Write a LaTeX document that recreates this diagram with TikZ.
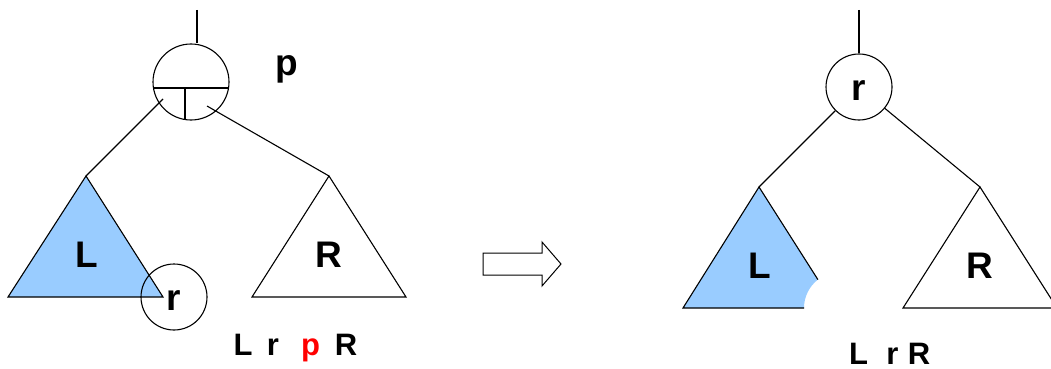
\documentclass[tikz,border=0pt]{standalone}
\usepackage{fontspec}
\setmainfont{Liberation Sans}
\usetikzlibrary{calc}
\definecolor{lblue}{HTML}{99CCFF}
\begin{document}
\begin{tikzpicture}[x=1pt,y=-1pt,
  edge/.style={draw=black,line width=1.1pt},
  ring/.style={circle,draw=black,line width=1.1pt,inner sep=0pt},
  big/.style={font=\fontsize{37}{40}\selectfont\bfseries},
  small/.style={font=\fontsize{31}{34}\selectfont\bfseries,anchor=base,inner sep=0pt},
  tri/.style={draw=black,line width=1.1pt,line join=miter}]
\useasboundingbox (0,0) rectangle (1051,369);
% ---------- left tree ----------
\node[ring,minimum size=76pt] (p) at (191,82) {};
\coordinate (ptop) at (197,10);
\draw[edge] (ptop) -- (ptop |- p.north);
\draw[edge] ($(p.center)+(-37.5,6)$) -- ($(p.center)+(37.5,6)$);
\draw[edge] ($(p.center)+(-6,6)$) -- ($(p.center)+(-6,37.5)$);
\node[big,anchor=base,inner sep=0pt] (plab) at (287,75) {p};
% L triangle
\coordinate (La) at (86,176);
\coordinate (Lb) at (8,297);
\coordinate (Lc) at (163,297);
\filldraw[tri,fill=lblue] (La) -- (Lb) -- (Lc) -- cycle;
\node[big] (Llab) at (86.5,255) {L};
% R triangle
\coordinate (Ra) at (329,176);
\coordinate (Rb) at (252,297);
\coordinate (Rc) at (406,297);
\draw[tri] (Ra) -- (Rb) -- (Rc) -- cycle;
\node[big] (Rlab) at (329,255) {R};
% pointers
\coordinate (pl) at (163,99);
\coordinate (pr) at (207,106);
\draw[edge] (pl) -- (La);
\draw[edge] (pr) -- (Ra);
% r circle
\node[ring,minimum size=66pt] (rl) at (174,297) {};
\node[big,anchor=base,inner sep=0pt] at (173.5,310) {r};
% bottom text
\node[small] at (243,355) {L};
\node[small] at (273,355) {r};
\node[small,text=red] at (310.5,355) {p};
\node[small] at (346,355) {R};
% ---------- arrow ----------
\draw[line width=1pt,line join=miter] (483,253) -- (542,253) -- (542,242) -- (561,264) -- (542,286) -- (542,275) -- (483,275) -- cycle;
% ---------- right tree ----------
\node[ring,minimum size=66pt] (r) at (859,87) {};
\node[big,anchor=base,inner sep=0pt] at (859,100) {r};
\coordinate (rtop) at (859,10);
\draw[edge] (rtop) -- (r);
% L triangle with bite
\coordinate (La2) at (759,187);
\coordinate (Lb2) at (683,308);
\coordinate (Lk) at (804,308);
\coordinate (Lm) at (817.9,279.6);
\fill[lblue] (La2) -- (Lb2) -- (Lk) arc[start angle=180,end angle=232.1,radius=36] -- cycle;
\draw[tri] (Lm) -- (La2) -- (Lb2) -- (Lk);
\node[big] (Llab2) at (760,266) {L};
% R triangle
\coordinate (Ra2) at (980,187);
\coordinate (Rb2) at (903,308);
\coordinate (Rc2) at (1057,308);
\draw[tri] (Ra2) -- (Rb2) -- (Rc2) -- cycle;
\node[big] (Rlab2) at (980,266) {R};
% pointers
\draw[edge] (r) -- (La2);
\draw[edge] (r) -- (Ra2);
% bottom text
\node[small] at (858.5,364) {L};
\node[small] at (892.5,364) {r};
\node[small] at (919,364) {R};
\end{tikzpicture}
\end{document}
